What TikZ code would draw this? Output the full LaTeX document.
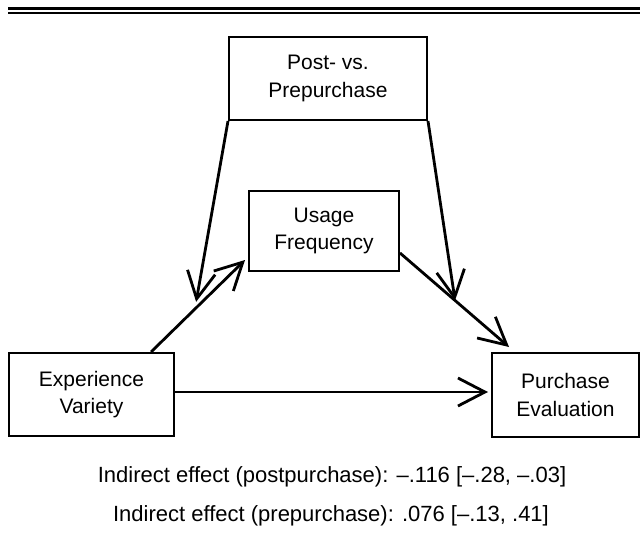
\documentclass[tikz,border=0pt]{standalone}
\usepackage{fontspec}
\setmainfont{Liberation Sans}
\usetikzlibrary{arrows.meta,calc}
\begin{document}
\begin{tikzpicture}[x=1pt,y=-1pt,
  box/.style={draw=black,line width=2pt,rectangle,inner sep=0pt,align=center,
    font=\fontsize{21}{27.5}\selectfont},
  conn/.style={line width=2.8pt,-{Straight Barb[length=27pt,width=28pt,line width=2.8pt]}},
  note/.style={anchor=base,font=\fontsize{22}{26}\selectfont,inner sep=0pt}]
\useasboundingbox (0,0) rectangle (640,552);
% top double rule
\draw[line width=3pt] (8,8) -- (640,8);
\draw[line width=2pt] (8,12.5) -- (640,12.5);
% boxes
\node[box,minimum width=198pt,minimum height=83pt] (post) at (328,78.5) {Post- vs.\\Prepurchase};
\node[box,minimum width=150pt,minimum height=80pt] (usage) at (324,231) {Usage\\Frequency};
\node[box,minimum width=165pt,minimum height=83pt] (exp) at (91.5,394.5) {Experience\\Variety};
\node[box,minimum width=147pt,minimum height=84pt] (purch) at (565.5,395) {Purchase\\Evaluation};
% connector end points
\coordinate (aS) at ($(exp.north east)+(-24,0)$);
\coordinate (aT) at ($(usage.south west)+(-3,-12)$);
\coordinate (bS) at ($(usage.south east)+(0,-19)$);
\coordinate (bT) at ($(purch.north west)+(18,-5)$);
\coordinate (mL) at ($(aS)!0.48!(aT)+(0,-6)$);
\coordinate (mR) at ($(bS)!0.505!(bT)$);
\coordinate (cS) at ($(exp.east)+(0,-2.5)$);
\coordinate (cT) at ($(purch.west)+(-3,-3)$);
% connectors
\draw[conn] (aS) -- (aT);
\draw[conn] (bS) -- (bT);
\draw[conn] (cS) -- (cT);
\draw[conn] (post.south west) -- (mL);
\draw[conn] (post.south east) -- (mR);
% notes
\node[note] (n1) at (332,482) {Indirect effect (postpurchase): –.116 [–.28, –.03]};
\node[note] (n2) at (331,521) {Indirect effect (prepurchase): .076 [–.13, .41]};
\end{tikzpicture}
\end{document}
